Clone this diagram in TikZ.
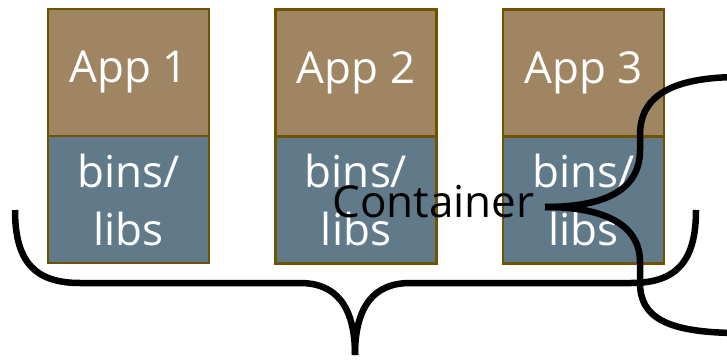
\documentclass[tikz,border=0pt]{standalone}
\usepackage{fontspec}
\setmainfont{Open Sans}
\definecolor{appfill}{HTML}{A08562}
\definecolor{libfill}{HTML}{607A89}
\definecolor{edge}{HTML}{705200}
\begin{document}
\begin{tikzpicture}[x=1pt,y=-1pt,
  appbox/.style={draw=edge,line width=2.2pt,fill=appfill,minimum width=161pt,minimum height=127pt,inner sep=0pt,text=white,font=\fontsize{44}{58}\selectfont},
  libbox/.style={draw=edge,line width=2.2pt,fill=libfill,minimum width=161pt,minimum height=127pt,inner sep=0pt,text=white,align=center,font=\fontsize{44}{58}\selectfont},
  brace/.style={draw=black,line width=6.5pt,line join=round}]
\useasboundingbox (0,0) rectangle (727,361);
\clip (0,0) rectangle (727,361);
\node[libbox] (l1) at (128.5,199.5) {bins/\\libs};
\node[appbox] (a1) at (128.5,72.5) {App 1};
\node[libbox] (l2) at (356,200) {bins/\\libs};
\node[appbox] (a2) at (356,73) {App 2};
\node[libbox] (l3) at (583.5,200) {bins/\\libs};
\node[appbox] (a3) at (583.5,73) {App 3};
\coordinate (bl) at (15,210);
\coordinate (br) at (696,210);
\coordinate (bt) at (355,355);
\draw[brace] (bl) .. controls (15,262) and (35,283) .. (80,283) -- (300,283)
  .. controls (335,283) and (355,305) .. (bt);
\draw[brace] (br) .. controls (696,262) and (676,283) .. (631,283) -- (410,283)
  .. controls (375,283) and (355,305) .. (bt);
\coordinate (rt) at (740,77);
\coordinate (rb) at (740,333);
\node[font=\fontsize{44}{58}\selectfont,inner sep=0pt,anchor=base] (c) at (433.5,217) {Container};
\coordinate (tip) at (545,207);
\draw[brace] (rt) .. controls (665,77) and (640,100) .. (640,135) -- (640,150)
  .. controls (640,190) and (605,207) .. (tip);
\draw[brace] (tip) .. controls (605,207) and (640,225) .. (640,262) -- (640,283)
  .. controls (640,318) and (668,333) .. (rb);
\end{tikzpicture}
\end{document}
